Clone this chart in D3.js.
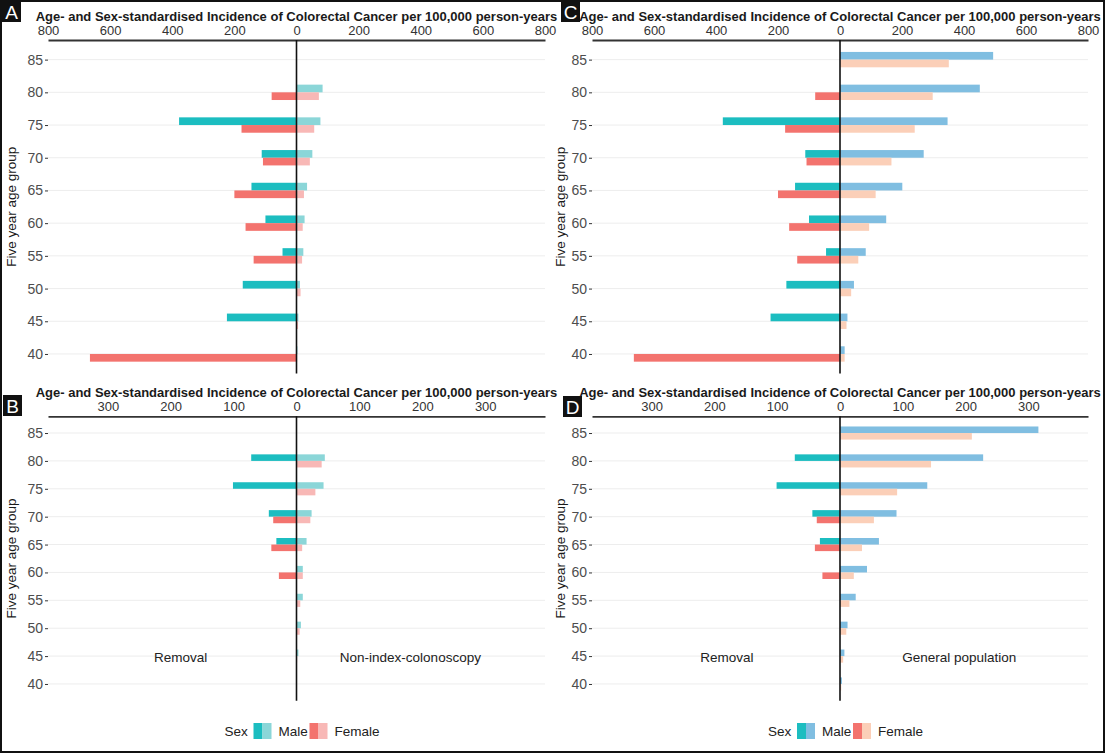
<!DOCTYPE html>
<html>
<head>
<meta charset="utf-8">
<script src="https://cdn.jsdelivr.net/npm/d3@7"></script>
<style>
  body { margin: 0; background: #fff; }
  svg { display: block; font-family: "Liberation Sans", Arial, sans-serif; }
</style>
</head>
<body>
<script>
// Age groups, bottom to top
const AGE_GROUPS = ["40", "45", "50", "55", "60", "65", "70", "75", "80", "85"];

// Top row (A, C): removal group
const REMOVAL_TOP_MALE = [0, 224, 173, 45, 100, 145, 112, 378, 0, 0];
const REMOVAL_TOP_FEMALE = [665, 0, 0, 138, 164, 200, 108, 177, 80, 0];
// A: non-index-colonoscopy
const NONINDEX_TOP_MALE = [3, 6, 11, 22, 26, 34, 51, 77, 84, 0];
const NONINDEX_TOP_FEMALE = [2, 5, 13, 18, 20, 24, 43, 57, 72, 0];
// C: general population
const GENPOP_TOP_MALE = [15, 24, 45, 83, 149, 201, 270, 347, 451, 494];
const GENPOP_TOP_FEMALE = [15, 21, 36, 59, 94, 115, 166, 241, 299, 351];

// Bottom row (B, D): removal group
const REMOVAL_BOTTOM_MALE = [0, 0, 0, 0, 0, 32, 44, 101, 72, 0];
const REMOVAL_BOTTOM_FEMALE = [0, 0, 0, 0, 28, 40, 37, 0, 0, 0];
// B: non-index-colonoscopy
const NONINDEX_BOTTOM_MALE = [0, 3, 7, 10, 10, 16, 24, 43, 45, 0];
const NONINDEX_BOTTOM_FEMALE = [0, 1, 5, 6, 10, 9, 22, 30, 40, 0];
// D: general population
const GENPOP_BOTTOM_MALE = [3, 7, 12, 25, 43, 62, 90, 139, 228, 316];
const GENPOP_BOTTOM_FEMALE = [2, 5, 10, 15, 22, 35, 54, 91, 145, 210];

const TOP_TICKS = [-800, -600, -400, -200, 0, 200, 400, 600, 800];
const BOTTOM_TICKS = [-300, -200, -100, 0, 100, 200, 300];

const AXIS_TITLE = "Age- and Sex-standardised Incidence of Colorectal Cancer per 100,000 person-years";
const Y_TITLE = "Five year age group";

const COL_REMOVAL_MALE = "#1CBDC0";
const COL_REMOVAL_FEMALE = "#F3736E";
const COL_NONINDEX_MALE = "#8BD6D8";
const COL_NONINDEX_FEMALE = "#F8B8B6";
const COL_GENPOP_MALE = "#80BEE1";
const COL_GENPOP_FEMALE = "#FBCFB8";

const W = 1105, H = 753;

const PANELS = [
  { letter: "A", box: [2, 1], xRange: [48, 545], yRange: [40, 373.6], maxAbs: 800, ticks: TOP_TICKS,
    remMale: REMOVAL_TOP_MALE, remFemale: REMOVAL_TOP_FEMALE,
    othMale: NONINDEX_TOP_MALE, othFemale: NONINDEX_TOP_FEMALE,
    othColors: [COL_NONINDEX_MALE, COL_NONINDEX_FEMALE], yTitleX: 11 },
  { letter: "B", box: [3, 395], xRange: [48, 545], yRange: [416.3, 700.7], maxAbs: 395, ticks: BOTTOM_TICKS,
    remMale: REMOVAL_BOTTOM_MALE, remFemale: REMOVAL_BOTTOM_FEMALE,
    othMale: NONINDEX_BOTTOM_MALE, othFemale: NONINDEX_BOTTOM_FEMALE,
    othColors: [COL_NONINDEX_MALE, COL_NONINDEX_FEMALE], yTitleX: 11,
    labels: [["Removal", -184], ["Non-index-colonoscopy", 181]], legend: true },
  { letter: "C", box: [561, 1], xRange: [592, 1088], yRange: [40, 373.6], maxAbs: 800, ticks: TOP_TICKS,
    remMale: REMOVAL_TOP_MALE, remFemale: REMOVAL_TOP_FEMALE,
    othMale: GENPOP_TOP_MALE, othFemale: GENPOP_TOP_FEMALE,
    othColors: [COL_GENPOP_MALE, COL_GENPOP_FEMALE], yTitleX: 560 },
  { letter: "D", box: [563, 396], xRange: [592, 1088], yRange: [416.3, 700.7], maxAbs: 395, ticks: BOTTOM_TICKS,
    remMale: REMOVAL_BOTTOM_MALE, remFemale: REMOVAL_BOTTOM_FEMALE,
    othMale: GENPOP_BOTTOM_MALE, othFemale: GENPOP_BOTTOM_FEMALE,
    othColors: [COL_GENPOP_MALE, COL_GENPOP_FEMALE], yTitleX: 560,
    labels: [["Removal", -180], ["General population", 190]], legend: true }
];

const svg = d3.select("body").append("svg")
  .attr("width", W)
  .attr("height", H);

svg.append("rect").attr("width", W).attr("height", H).attr("fill", "#fff");

PANELS.forEach(p => {
  const g = svg.append("g");
  const x = d3.scaleLinear().domain([-p.maxAbs, p.maxAbs]).range(p.xRange);
  const y = d3.scalePoint().domain(AGE_GROUPS.slice().reverse()).range(p.yRange).padding(0.6);
  const barH = y.step() * 0.235;
  const top = p.yRange[0], bottom = p.yRange[1];

  // gridlines
  g.selectAll(".grid").data(AGE_GROUPS).join("line")
    .attr("x1", p.xRange[0]).attr("x2", p.xRange[1])
    .attr("y1", d => y(d)).attr("y2", d => y(d))
    .attr("stroke", "#EDEDED").attr("stroke-width", 1);

  // bars
  const rows = AGE_GROUPS.map((a, i) => ({
    age: a,
    remMale: p.remMale[i], remFemale: p.remFemale[i],
    othMale: p.othMale[i], othFemale: p.othFemale[i]
  }));
  const series = [
    { key: "remMale", sign: -1, off: -1, color: COL_REMOVAL_MALE },
    { key: "remFemale", sign: -1, off: 0, color: COL_REMOVAL_FEMALE },
    { key: "othMale", sign: 1, off: -1, color: p.othColors[0] },
    { key: "othFemale", sign: 1, off: 0, color: p.othColors[1] }
  ];
  series.forEach(s => {
    g.selectAll(null).data(rows.filter(r => r[s.key] > 0)).join("rect")
      .attr("x", d => Math.min(x(0), x(s.sign * d[s.key])))
      .attr("width", d => Math.abs(x(s.sign * d[s.key]) - x(0)))
      .attr("y", d => y(d.age) + s.off * barH)
      .attr("height", barH)
      .attr("fill", s.color);
  });

  // top axis
  const xAxis = g.append("g")
    .attr("transform", `translate(0,${top})`)
    .call(d3.axisTop(x).tickValues(p.ticks).tickSize(0).tickSizeOuter(0).tickPadding(5)
      .tickFormat(d => Math.abs(d)));
  xAxis.select(".domain").attr("stroke", "#333").attr("stroke-width", 1.8);
  xAxis.selectAll("text").attr("fill", "#333").style("font-size", "13px");

  // left axis
  const yAxis = g.append("g")
    .attr("transform", `translate(${p.xRange[0]},0)`)
    .call(d3.axisLeft(y).tickSize(3).tickPadding(2));
  yAxis.select(".domain").remove();
  yAxis.selectAll("line").attr("stroke", "#333");
  yAxis.selectAll("text").attr("fill", "#4D4D4D").style("font-size", "14px");

  // zero line
  g.append("line")
    .attr("x1", x(0)).attr("x2", x(0))
    .attr("y1", top).attr("y2", bottom)
    .attr("stroke", "#111").attr("stroke-width", 1.6);

  // axis title
  g.append("text")
    .attr("x", x(0)).attr("y", top - 19)
    .attr("text-anchor", "middle")
    .style("font-size", "13px").style("font-weight", "bold")
    .attr("fill", "#1a1a1a")
    .text(AXIS_TITLE);

  // y title
  g.append("text")
    .attr("transform", `translate(${p.yTitleX + 4.5},${(top + bottom) / 2}) rotate(-90)`)
    .attr("text-anchor", "middle")
    .style("font-size", "13.5px")
    .attr("fill", "#1a1a1a")
    .text(Y_TITLE);

  // group labels
  if (p.labels) {
    p.labels.forEach(([txt, v]) => {
      g.append("text")
        .attr("x", x(v)).attr("y", y("45") + 6)
        .attr("text-anchor", "middle")
        .style("font-size", "13.5px")
        .attr("fill", "#222")
        .text(txt);
    });
  }

  // legend
  if (p.legend) {
    const lg = g.append("g").attr("transform", `translate(${x(0)},731)`);
    lg.append("text").attr("x", -72).attr("y", 5).style("font-size", "13.5px").attr("fill", "#222").text("Sex");
    const keys = [
      { dx: -43, c1: COL_REMOVAL_MALE, c2: p.othColors[0], label: "Male" },
      { dx: 13, c1: COL_REMOVAL_FEMALE, c2: p.othColors[1], label: "Female" }
    ];
    keys.forEach(k => {
      lg.append("rect").attr("x", k.dx).attr("y", -8).attr("width", 9).attr("height", 16).attr("fill", k.c1);
      lg.append("rect").attr("x", k.dx + 9).attr("y", -8).attr("width", 9).attr("height", 16).attr("fill", k.c2);
      lg.append("text").attr("x", k.dx + 25).attr("y", 5).style("font-size", "13.5px").attr("fill", "#222").text(k.label);
    });
  }

  // panel letter
  svg.append("rect")
    .attr("x", p.box[0]).attr("y", p.box[1]).attr("width", 19).attr("height", 21)
    .attr("fill", "#111");
  svg.append("text")
    .attr("x", p.box[0] + 9.5).attr("y", p.box[1] + 17.5)
    .attr("text-anchor", "middle")
    .style("font-size", "19px")
    .attr("fill", "#fff")
    .text(p.letter);
});

// outer frame
svg.append("rect")
  .attr("x", 1).attr("y", 1).attr("width", W - 2).attr("height", H - 2)
  .attr("fill", "none").attr("stroke", "#111").attr("stroke-width", 2);
</script>
</body>
</html>
